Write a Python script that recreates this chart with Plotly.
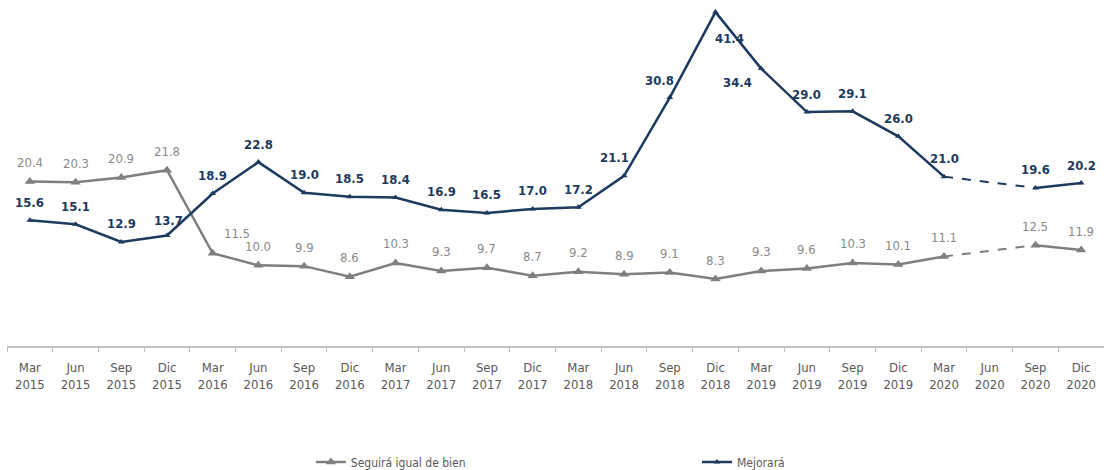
import plotly.graph_objects as go

categories = ["Mar<br>2015", "Jun<br>2015", "Sep<br>2015", "Dic<br>2015",
              "Mar<br>2016", "Jun<br>2016", "Sep<br>2016", "Dic<br>2016",
              "Mar<br>2017", "Jun<br>2017", "Sep<br>2017", "Dic<br>2017",
              "Mar<br>2018", "Jun<br>2018", "Sep<br>2018", "Dic<br>2018",
              "Mar<br>2019", "Jun<br>2019", "Sep<br>2019", "Dic<br>2019",
              "Mar<br>2020", "Jun<br>2020", "Sep<br>2020", "Dic<br>2020"]

mejorara = [15.6, 15.1, 12.9, 13.7, 18.9, 22.8, 19.0, 18.5, 18.4, 16.9, 16.5, 17.0,
            17.2, 21.1, 30.8, 41.4, 34.4, 29.0, 29.1, 26.0, 21.0, None, 19.6, 20.2]
seguira = [20.4, 20.3, 20.9, 21.8, 11.5, 10.0, 9.9, 8.6, 10.3, 9.3, 9.7, 8.7,
           9.2, 8.9, 9.1, 8.3, 9.3, 9.6, 10.3, 10.1, 11.1, None, 12.5, 11.9]

NAVY = "#1d3a5f"
GRAY = "#7f7f7f"
LABEL_GRAY = "#8a8a8a"
FONT = "DejaVu Sans Condensed, Liberation Sans Narrow, sans-serif"

fig = go.Figure()

fig.add_trace(go.Scatter(x=categories, y=seguira, name="Seguirá igual de bien",
                         mode="lines+markers", connectgaps=False,
                         line=dict(color=GRAY, width=2.5),
                         marker=dict(symbol="triangle-up", size=9, color=GRAY),
                         legend="legend"))
fig.add_trace(go.Scatter(x=categories, y=mejorara, name="Mejorará",
                         mode="lines+markers", connectgaps=False,
                         line=dict(color=NAVY, width=2.5),
                         marker=dict(symbol="triangle-up", size=6, color=NAVY),
                         legend="legend2"))

# gap bridge (dashed) between Mar 2020 and Sep 2020
gap_idx = [20, 22]
fig.add_trace(go.Scatter(x=[categories[i] for i in gap_idx], y=[seguira[i] for i in gap_idx],
                         mode="lines", line=dict(color=GRAY, width=2, dash="dash"),
                         showlegend=False, hoverinfo="skip"))
fig.add_trace(go.Scatter(x=[categories[i] for i in gap_idx], y=[mejorara[i] for i in gap_idx],
                         mode="lines", line=dict(color=NAVY, width=2, dash="dash"),
                         showlegend=False, hoverinfo="skip"))

# label offsets (pixels)
seg_off = {4: (24, 20)}
mej_off = {13: (-10, 18), 14: (-10, 17), 15: (14, -26), 16: (-24, -14), 3: (2, 15)}

for i, v in enumerate(seguira):
    if v is None:
        continue
    dx, dy = seg_off.get(i, (0, 19))
    fig.add_annotation(x=categories[i], y=v, text=f"{v:.1f}", showarrow=False,
                       xshift=dx, yshift=dy,
                       font=dict(family=FONT, size=13, color=LABEL_GRAY))
for i, v in enumerate(mejorara):
    if v is None:
        continue
    dx, dy = mej_off.get(i, (0, 18))
    fig.add_annotation(x=categories[i], y=v, text=f"<b>{v:.1f}</b>", showarrow=False,
                       xshift=dx, yshift=dy,
                       font=dict(family=FONT, size=13, color=NAVY))

leg_font = dict(family=FONT, size=12, color="#595959")
fig.update_layout(
    width=1104, height=470,
    margin=dict(l=7, r=0, t=0, b=124, autoexpand=False),
    paper_bgcolor="white", plot_bgcolor="white",
    font=dict(family=FONT, size=12, color="#595959"),
    showlegend=True,
    legend=dict(orientation="h", x=0.277, xanchor="left", yref="container",
                y=0.017, yanchor="middle",
                font=leg_font, bgcolor="rgba(0,0,0,0)", itemwidth=30),
    legend2=dict(orientation="h", x=0.629, xanchor="left", yref="container",
                 y=0.017, yanchor="middle",
                 font=leg_font, bgcolor="rgba(0,0,0,0)", itemwidth=30),
)
fig.update_xaxes(type="category", categoryorder="array", categoryarray=categories,
                 range=[-0.5, 23.5], showgrid=False, automargin=False,
                 showline=True, linecolor="#bfbfbf", linewidth=2,
                 ticks="outside", tickson="boundaries", ticklen=4, tickcolor="#bfbfbf",
                 ticklabelstandoff=8,
                 tickfont=dict(family=FONT, size=13, color="#595959"))
fig.update_yaxes(range=[0, 42.9], visible=False, showgrid=False, zeroline=False)

fig.write_html("out.html", config={"displayModeBar": False},
               post_script="document.body.style.margin='0';document.body.style.overflow='hidden';")
